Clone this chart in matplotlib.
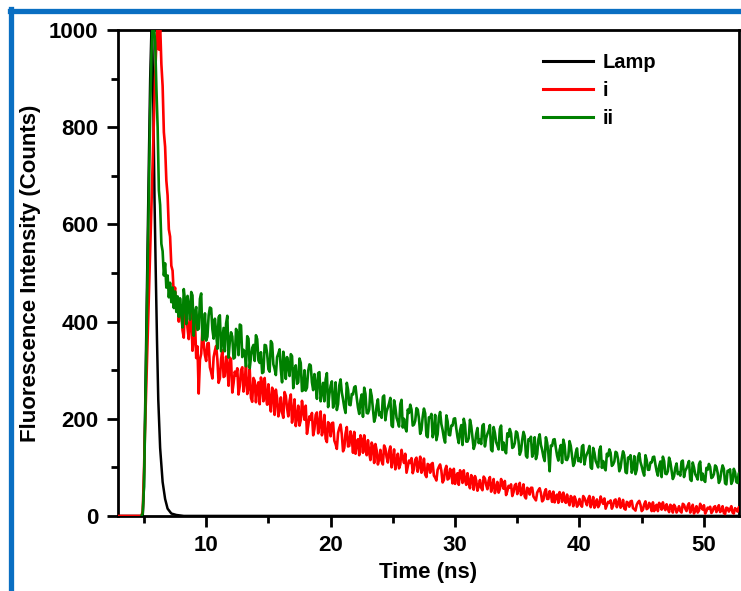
import numpy as np
import matplotlib
matplotlib.use('Agg')
import matplotlib.pyplot as plt
from matplotlib.lines import Line2D
from matplotlib.ticker import MultipleLocator

plt.rcParams['font.family'] = ['Liberation Sans', 'DejaVu Sans']
plt.rcParams['font.weight'] = 'bold'

# Импульс лампы (время, отсчёты)
lamp_t = [2.9, 4.9, 5.0, 5.1, 5.2, 5.3, 5.4, 5.5, 5.6, 5.65, 5.75, 5.85,
          5.95, 6.05, 6.15, 6.3, 6.5, 6.7, 6.9, 7.2, 7.6, 8.2, 53.0]
lamp = [0, 0, 60, 230, 400, 570, 740, 900, 1000, 1020, 850, 650,
        500, 360, 240, 140, 70, 35, 15, 5, 2, 0, 0]

# Начало кривых: шаг 0.1 нс от 2.9 до 7.9
red_head = [0] * 19 + [
    0, 10, 90, 190, 280, 370, 460, 550, 640, 730,
    820, 905, 975, 1015, 960, 1012, 930, 885, 790, 760,
    690, 660, 590, 575, 515, 505, 455, 470, 425, 445,
    400, 430]
green_head = [
    0, 5, 60, 200, 360, 520, 680, 830, 950, 1012,
    1008, 975, 880, 800, 670, 640, 560, 545, 495, 520,
    470, 495, 450, 480, 440, 470, 428, 462, 420, 452,
    410, 448]

# Хвосты: чётные каналы 8.0, 8.2 ... 52.8 нс
red_even = [
    426, 367, 423, 364, 420, 365, 325, 252, 334, 355,
    319, 356, 296, 327, 350, 274, 323, 286, 328, 268,
    322, 273, 289, 250, 300, 256, 309, 264, 243, 284,
    234, 275, 285, 236, 247, 271, 215, 253, 260, 205,
    244, 202, 247, 205, 250, 212, 185, 227, 197, 215,
    227, 186, 198, 166, 208, 170, 215, 177, 159, 193,
    164, 192, 148, 171, 188, 133, 170, 143, 174, 130,
    128, 158, 166, 130, 138, 156, 115, 143, 148, 106,
    136, 106, 139, 110, 143, 116, 96, 128, 106, 120,
    128, 101, 109, 88, 116, 91, 122, 96, 85, 107,
    89, 109, 79, 95, 106, 69, 95, 75, 97, 67,
    66, 88, 94, 68, 74, 88, 57, 77, 82, 52,
    74, 53, 77, 55, 80, 61, 47, 70, 55, 65,
    72, 51, 58, 41, 63, 45, 68, 49, 40, 58,
    44, 58, 36, 48, 57, 30, 49, 35, 51, 29,
    28, 44, 49, 29, 34, 44, 22, 37, 40, 19,
    35, 19, 37, 22, 41, 27, 17, 34, 23, 31,
    36, 22, 27, 15, 32, 18, 36, 22, 15, 29,
    19, 31, 14, 23, 31, 10, 24, 14, 27, 10,
    10, 23, 27, 13, 17, 24, 8, 20, 23, 7,
    20, 7, 23, 10, 26, 14, 5, 20, 11, 18,
    22, 10, 15, 6, 18, 8, 22, 11, 6, 17,
    9, 20, 5, 13, 18]
# нечётные каналы 8.1, 8.3 ... 52.9 нс
red_odd = [
    382, 435, 387, 404, 340, 401, 349, 322, 386, 331,
    355, 306, 283, 340, 322, 283, 341, 288, 310, 326,
    254, 297, 304, 267, 306, 279, 251, 302, 235, 278,
    266, 230, 271, 284, 229, 236, 264, 208, 242, 219,
    213, 255, 222, 237, 192, 240, 204, 186, 237, 198,
    169, 205, 212, 179, 213, 189, 166, 208, 152, 188,
    191, 155, 138, 181, 168, 140, 183, 144, 161, 173,
    152, 125, 156, 166, 125, 130, 151, 109, 135, 117,
    113, 145, 121, 133, 100, 137, 110, 98, 136, 109,
    89, 114, 119, 97, 120, 104, 89, 118, 80, 105,
    107, 83, 73, 101, 93, 74, 103, 77, 89, 97,
    83, 64, 86, 94, 64, 69, 84, 54, 73, 61,
    58, 81, 64, 73, 50, 76, 57, 48, 76, 56,
    43, 62, 65, 49, 66, 55, 43, 65, 36, 55,
    58, 40, 32, 53, 47, 33, 55, 35, 44, 50,
    41, 27, 43, 48, 27, 30, 41, 20, 33, 24,
    23, 41, 29, 35, 18, 39, 24, 18, 40, 25,
    15, 29, 32, 21, 34, 26, 17, 33, 13, 27,
    30, 16, 11, 28, 23, 13, 30, 16, 22, 28,
    20, 10, 23, 28, 12, 15, 23, 7, 18, 12,
    10, 25, 15, 21, 7, 23, 12, 7, 25, 13,
    5, 17, 19, 10, 20, 14, 8, 20, 4, 16,
    14, 7, 16, 9, 13]
green_even = [
    421, 467, 395, 433, 461, 371, 430, 385, 458, 365,
    361, 413, 427, 365, 379, 409, 339, 387, 396, 326,
    378, 324, 385, 331, 392, 342, 308, 365, 327, 352,
    372, 320, 337, 296, 351, 302, 360, 312, 290, 334,
    301, 338, 282, 311, 333, 263, 310, 275, 315, 259,
    258, 299, 310, 259, 270, 294, 236, 274, 281, 224,
    268, 223, 275, 230, 281, 240, 212, 260, 228, 250,
    267, 223, 238, 204, 251, 211, 260, 221, 203, 240,
    213, 245, 197, 223, 243, 183, 224, 194, 230, 182,
    181, 219, 229, 186, 196, 219, 169, 204, 211, 162,
    202, 162, 208, 168, 214, 177, 151, 195, 166, 186,
    201, 162, 176, 146, 188, 153, 198, 162, 147, 181,
    157, 186, 143, 169, 187, 133, 171, 145, 179, 136,
    135, 170, 179, 140, 150, 171, 126, 157, 164, 120,
    156, 122, 162, 127, 168, 136, 113, 151, 92, 144,
    158, 124, 136, 109, 146, 115, 154, 123, 109, 139,
    118, 143, 106, 128, 144, 97, 130, 107, 136, 99,
    99, 128, 137, 103, 112, 130, 92, 119, 125, 88,
    119, 89, 123, 95, 129, 102, 83, 115, 95, 110,
    122, 92, 103, 80, 113, 86, 120, 94, 82, 108,
    90, 112, 80, 98, 113, 72, 100, 81, 106, 74,
    74, 99, 107, 78, 86, 101, 68, 92, 97, 65,
    92, 66, 97, 70, 88]
green_odd = [
    388, 443, 453, 404, 454, 419, 383, 447, 362, 417,
    369, 429, 384, 406, 344, 413, 363, 339, 412, 359,
    369, 326, 376, 394, 327, 337, 370, 304, 346, 319,
    364, 315, 294, 352, 334, 297, 355, 303, 327, 343,
    275, 319, 327, 288, 329, 301, 272, 324, 257, 300,
    264, 312, 275, 292, 241, 296, 256, 236, 294, 250,
    277, 235, 218, 269, 254, 223, 274, 229, 251, 265,
    243, 210, 250, 264, 212, 219, 247, 194, 227, 207,
    202, 248, 215, 232, 186, 238, 202, 184, 239, 200,
    174, 212, 219, 188, 222, 200, 177, 221, 165, 203,
    210, 173, 156, 203, 189, 161, 207, 167, 186, 200,
    180, 150, 187, 200, 153, 160, 185, 138, 169, 150,
    148, 189, 160, 176, 136, 183, 152, 137, 186, 151,
    129, 163, 170, 142, 174, 154, 134, 173, 124, 158,
    163, 131, 117, 158, 146, 122, 162, 128, 145, 157,
    140, 114, 146, 157, 116, 122, 144, 103, 130, 113,
    111, 146, 121, 134, 100, 140, 113, 100, 143, 113,
    94, 123, 130, 106, 132, 116, 99, 133, 90, 120,
    125, 98, 86, 121, 111, 91, 125, 95, 110, 121,
    106, 83, 112, 122, 87, 92, 111, 76, 99, 86,
    83, 114, 93, 105, 75, 110, 86, 75, 112, 87,
    70, 95, 101, 80, 104, 89, 74, 104, 67, 93,
    96, 72, 90, 68, 85]

t_head = np.arange(29, 80) / 10.0
t_tail = np.arange(80, 530) / 10.0

# склеиваем чётные и нечётные каналы
red_tail = np.column_stack((red_even, red_odd)).ravel()
green_tail = np.column_stack((green_even, green_odd)).ravel()

t_red = np.concatenate((t_head, t_tail))
red = np.concatenate((red_head, red_tail))
t_green = np.concatenate((t_head[19:], t_tail))
green = np.concatenate((green_head, green_tail))

fig = plt.figure(figsize=(7.41, 5.91), dpi=100)
ax = fig.add_axes([0.159, 0.127, 0.838, 0.822])

ax.plot(lamp_t, lamp, color='black', lw=1.8, label='Lamp', zorder=3)
ax.plot(t_red, red, color='#ff0000', lw=1.9, label='i', zorder=3.1)
ax.plot(t_green, green, color='#008000', lw=1.9, label='ii', zorder=3.2)

ax.set_xlim(2.9, 52.8)
ax.set_ylim(0, 1000)
ax.xaxis.set_major_locator(MultipleLocator(10))
ax.xaxis.set_minor_locator(MultipleLocator(5))
ax.yaxis.set_major_locator(MultipleLocator(200))
ax.yaxis.set_minor_locator(MultipleLocator(100))
ax.tick_params(which='major', direction='out', length=8, width=2, labelsize=16, pad=6)
ax.tick_params(which='minor', direction='out', length=5, width=2)
for s in ax.spines.values():
    s.set_linewidth(2)

ax.set_xlabel('Time (ns)', fontsize=16, fontweight='bold', labelpad=4)
ax.set_ylabel('Fluorescence Intensity (Counts)', fontsize=16, fontweight='bold', labelpad=6)

leg = ax.legend(loc='upper left', bbox_to_anchor=(0.655, 0.99), frameon=False,
                fontsize=14.5, handlelength=2.5, labelspacing=0.45, handletextpad=0.5)
for h in leg.get_lines():
    h.set_linewidth(2.2)

# Синяя рамка по краю рисунка
fig.add_artist(Line2D([0.0135, 1.0], [0.982, 0.982], transform=fig.transFigure,
                      color='#0a6fc2', lw=3.8))
fig.add_artist(Line2D([0.0142, 0.0142], [0.0, 0.985], transform=fig.transFigure,
                      color='#0a6fc2', lw=3.8))

fig.savefig('out.png', dpi=100)
